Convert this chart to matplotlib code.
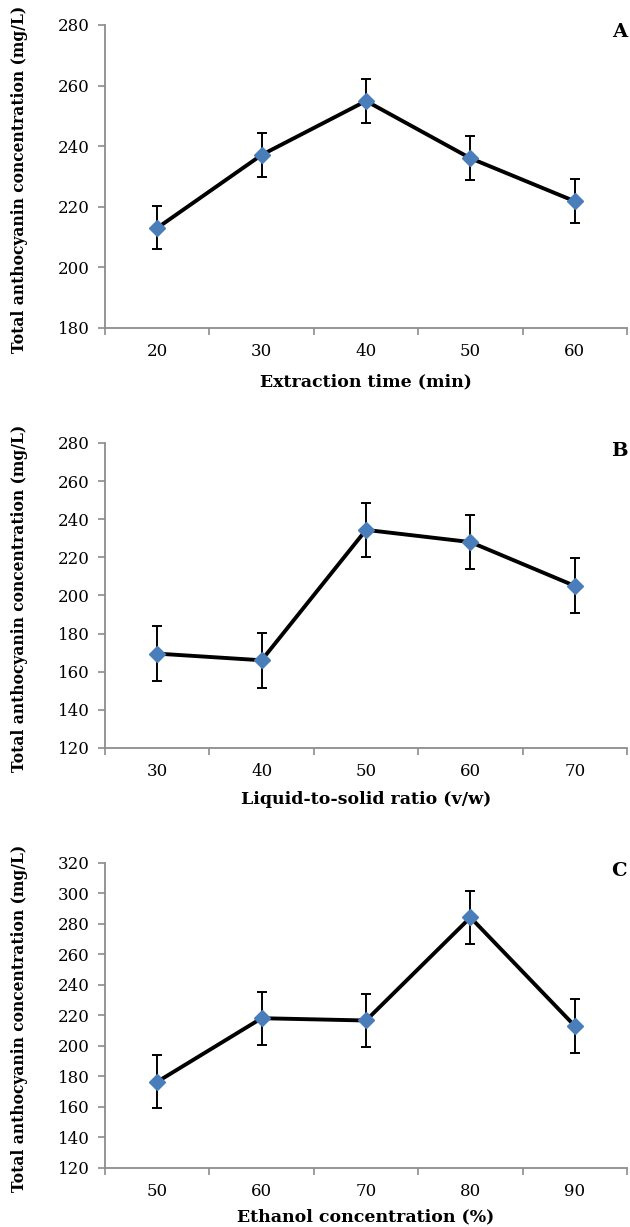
import matplotlib.pyplot as plt
import numpy as np

# Values
time_min = [20, 30, 40, 50, 60]
tac_time = [213.0, 237.1, 254.9, 236.0, 221.8]
err_time = [7.1, 7.2, 7.2, 7.2, 7.2]

ratio_vw = [30, 40, 50, 60, 70]
tac_ratio = [169.5, 166.0, 234.4, 228.0, 205.0]
err_ratio = [14.4, 14.4, 14.3, 14.3, 14.4]

ethanol_pct = [50, 60, 70, 80, 90]
tac_ethanol = [176.5, 218.2, 216.7, 284.3, 213.1]
err_ethanol = [17.4, 17.5, 17.4, 17.4, 17.4]

ylabel = 'Total anthocyanin concentration (mg/L)'
panels = [
    ('A', time_min, tac_time, err_time, 'Extraction time (min)', (180, 280)),
    ('B', ratio_vw, tac_ratio, err_ratio, 'Liquid-to-solid ratio (v/w)', (120, 280)),
    ('C', ethanol_pct, tac_ethanol, err_ethanol, 'Ethanol concentration (%)', (120, 320)),
]

plt.rcParams['font.family'] = ['DejaVu Serif']
grey = '#8c8c8c'

fig = plt.figure(figsize=(6.3, 12.27), dpi=100)
boxes = [(0.1667, 0.7327, 0.8286, 0.247),
         (0.1667, 0.3904, 0.8286, 0.2486),
         (0.1667, 0.0481, 0.8286, 0.2486)]
labelpads = [10, 8, 6]

for (letter, xs, ys, es, xlabel, ylim), box, pad in zip(panels, boxes, labelpads):
    ax = fig.add_axes(box)
    pos = np.arange(1, len(xs) + 1)
    ax.errorbar(pos, ys, yerr=es, fmt='none', ecolor='black',
                elinewidth=1.4, capsize=3.3, capthick=1.4, zorder=2)
    ax.plot(pos, ys, color='black', lw=2.8, zorder=3)
    ax.plot(pos, ys, ls='none', marker='D', ms=8, color='#4a7ebb',
            mec='#4a7ebb', zorder=4)

    ax.set_xlim(0.5, len(xs) + 0.5)
    ax.set_ylim(*ylim)
    ax.set_yticks(np.arange(ylim[0], ylim[1] + 1, 20))
    # category axis: ticks between categories, labels at categories
    ax.set_xticks(np.arange(0.5, len(xs) + 1, 1.0))
    ax.set_xticklabels([])
    ax.set_xticks(pos, minor=True)
    ax.set_xticklabels([str(v) for v in xs], minor=True)
    ax.tick_params(axis='x', which='minor', length=0, pad=10.5, labelsize=12)
    ax.tick_params(axis='x', which='major', length=5, width=1.2,
                   color=grey, direction='out')
    ax.tick_params(axis='y', length=5, width=1.2, color=grey,
                   direction='out', labelsize=12, pad=6)

    for side in ['top', 'right']:
        ax.spines[side].set_visible(False)
    for side in ['left', 'bottom']:
        ax.spines[side].set_color(grey)
        ax.spines[side].set_linewidth(1.3)

    ax.set_xlabel(xlabel, fontsize=12.5, fontweight='bold', labelpad=pad)
    ax.set_ylabel(ylabel, fontsize=11.2, fontweight='bold')
    ax.yaxis.set_label_coords(-0.147, 0.49)
    ax.text(0.985, 0.975, letter, transform=ax.transAxes, ha='center',
            va='center', fontsize=14, fontweight='bold')

fig.savefig('out.png', dpi=100)
